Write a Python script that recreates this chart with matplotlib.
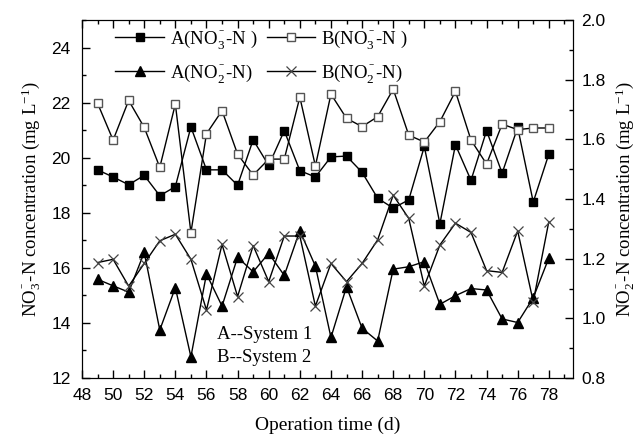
import numpy as np
import matplotlib
matplotlib.use('Agg')
import matplotlib.pyplot as plt
from matplotlib.ticker import MultipleLocator

plt.rcParams['mathtext.fontset'] = 'custom'
plt.rcParams['mathtext.rm'] = 'Liberation Serif'
plt.rcParams['mathtext.it'] = 'Liberation Serif:italic'

# 数据：运行天数 49-78
days = np.arange(49, 79)
a_no3 = [19.56, 19.3, 19.02, 19.36, 18.62, 18.95, 21.12, 19.56, 19.56, 19.0,
         20.65, 19.72, 20.98, 19.53, 19.3, 20.03, 20.06, 19.47, 18.53, 18.17,
         18.47, 20.41, 17.6, 20.47, 19.18, 20.98, 19.44, 21.1, 18.39, 20.13]
b_no3 = [21.98, 20.64, 22.08, 21.1, 19.65, 21.95, 17.28, 20.87, 21.71, 20.13,
         19.37, 19.95, 19.95, 22.2, 19.7, 22.31, 21.43, 21.13, 21.49, 22.49,
         20.82, 20.57, 21.31, 22.41, 20.64, 19.77, 21.22, 21.02, 21.08, 21.08]
a_no2 = [1.131, 1.109, 1.088, 1.221, 0.961, 1.103, 0.871, 1.149, 1.041, 1.205,
         1.156, 1.218, 1.144, 1.294, 1.175, 0.936, 1.106, 0.967, 0.924, 1.165,
         1.173, 1.19, 1.047, 1.076, 1.1, 1.095, 0.998, 0.986, 1.069, 1.202]
b_no2 = [1.187, 1.198, 1.108, 1.184, 1.26, 1.282, 1.198, 1.028, 1.248, 1.073,
         1.244, 1.123, 1.276, 1.276, 1.041, 1.184, 1.123, 1.184, 1.263, 1.413,
         1.335, 1.108, 1.246, 1.319, 1.288, 1.16, 1.154, 1.293, 1.056, 1.324]

fig = plt.figure(figsize=(6.38, 4.36), dpi=100)
ax = fig.add_axes([0.1285, 0.133, 0.7695, 0.821])
ax2 = ax.twinx()

lw = 1.0
l1, = ax.plot(days, a_no3, '-s', color='k', lw=lw, markersize=5.5,
              markerfacecolor='k', markeredgecolor='k', label=r'A(NO$_3^{^-}$-N )')
l2, = ax.plot(days, b_no3, '-s', color='k', lw=lw, markersize=5.5,
              markerfacecolor='white', markeredgecolor='#555555', label=r'B(NO$_3^{^-}$-N )')
l3, = ax2.plot(days, a_no2, '-^', color='k', lw=lw, markersize=6.5,
               markerfacecolor='k', markeredgecolor='k', label=r'A(NO$_2^{^-}$-N)')
l4, = ax2.plot(days, b_no2, '-x', color='k', lw=lw, markersize=7,
               markeredgecolor='#444444', markeredgewidth=0.9, label=r'B(NO$_2^{^-}$-N)')

ax.set_xlim(48, 79.55)
ax.set_ylim(12, 25)
ax2.set_ylim(0.8, 2.0)

ax.xaxis.set_major_locator(MultipleLocator(2))
ax.xaxis.set_minor_locator(MultipleLocator(1))
ax.set_yticks([12, 14, 16, 18, 20, 22, 24])
ax.yaxis.set_minor_locator(MultipleLocator(1))
ax2.set_yticks([0.8, 1.0, 1.2, 1.4, 1.6, 1.8, 2.0])
ax2.set_yticklabels(['0.8', '1.0', '1.2', '1.4', '1.6', '1.8', '2.0'])
ax2.yaxis.set_minor_locator(MultipleLocator(0.1))

ax.tick_params(which='both', direction='in', top=True, right=False,
               labelsize=12.5, width=1, colors='k')
ax.tick_params(which='major', length=6)
ax.tick_params(which='minor', length=3)
ax.tick_params(axis='x', pad=7)
ax.tick_params(axis='y', pad=8)
ax2.tick_params(which='both', direction='in', labelsize=12.5, width=1, pad=6)
ax2.tick_params(which='major', length=6)
ax2.tick_params(which='minor', length=3)
for lab in ax.get_xticklabels() + ax.get_yticklabels() + ax2.get_yticklabels():
    lab.set_family('Liberation Sans')

serif = 'Liberation Serif'
ax.set_xlabel('Operation time (d)', fontsize=14, family=serif, labelpad=10)
ax.set_ylabel(r'NO$_3^{^-}$-N concentration (mg L$^{-1}$)', fontsize=13.5, family=serif, labelpad=6)
ax2.set_ylabel(r'NO$_2^{^-}$-N concentration (mg L$^{-1}$)', fontsize=13.5, family=serif, labelpad=6)

leg = ax.legend([l1, l3, l2, l4], [l1.get_label(), l3.get_label(), l2.get_label(), l4.get_label()],
                ncol=2, loc='upper left', bbox_to_anchor=(0.045, 1.01), frameon=False,
                prop={'family': serif, 'size': 13.5}, handlelength=2.6, handletextpad=0.3,
                columnspacing=0.5, labelspacing=0.6, borderaxespad=0.2)

ax.text(0.275, 0.11, 'A--System 1', transform=ax.transAxes, fontsize=13.5, family=serif)
ax.text(0.275, 0.045, 'B--System 2', transform=ax.transAxes, fontsize=13.5, family=serif)

fig.savefig('out.png', dpi=100)
